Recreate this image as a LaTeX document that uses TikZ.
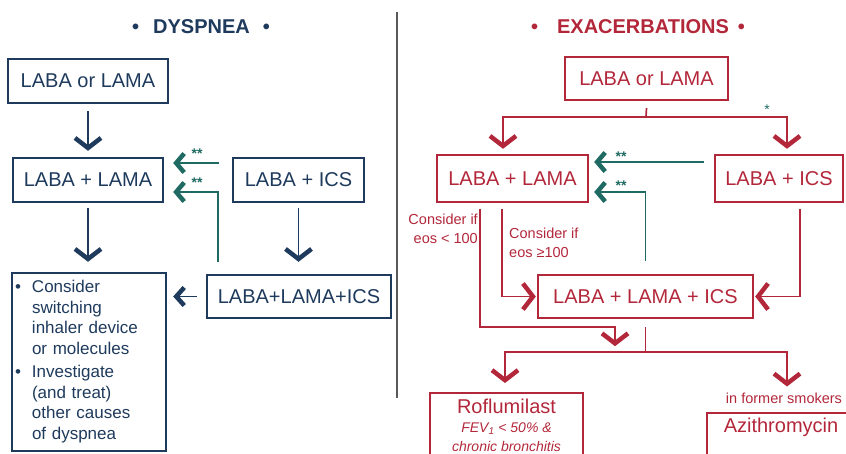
\documentclass[tikz,border=0pt]{standalone}
\usepackage{fontspec}
\setmainfont{Liberation Sans}
\usetikzlibrary{arrows.meta, positioning}
\definecolor{dyblue}{HTML}{1E3A5C}
\definecolor{exred}{HTML}{B3273A}
\definecolor{swgreen}{HTML}{1F6B63}
\begin{document}
\begin{tikzpicture}[x=1pt, y=-1pt,
  box/.style={draw, line width=2.4pt, inner sep=0pt, minimum height=44pt,
    font=\fontsize{20}{24}\selectfont},
  dbox/.style={box, draw=dyblue, text=dyblue},
  ebox/.style={box, draw=exred, text=exred},
  bigtip/.style={-{Straight Barb[length=10pt,width=26pt,line width=4.5pt]}},
  dline/.style={dyblue, line width=1.7pt, bigtip},
  rthin/.style={exred, line width=1.7pt},
  rline/.style={rthin, bigtip},
  gline/.style={swgreen, line width=1.7pt, -{Straight Barb[length=8pt,width=19pt,line width=4.5pt]}},
  stars/.style={swgreen, font=\fontsize{14}{14}\bfseries\selectfont, inner sep=0pt},
  rnote/.style={exred, font=\fontsize{14.5}{19}\selectfont, inner sep=0pt},
  title/.style={font=\fontsize{20}{24}\bfseries\selectfont, inner sep=0pt}]
  \clip (0,0) rectangle (846,453);
  \node[title, dyblue] (dTitle) at (201,27) {\textbullet\hspace{14pt}DYSPNEA\hspace{13pt}\textbullet};
  \node[dbox, minimum width=160pt] (dOr) at (88,81) {LABA or LAMA};
  \node[dbox, minimum width=150pt] (dLL) at (88,180) {LABA + LAMA};
  \node[dbox, minimum width=131pt] (dLI) at (298.5,180) {LABA + ICS};
  \node[dbox, minimum width=184pt, minimum height=43pt] (dTri) at (299,296.5) {LABA+LAMA+ICS};
  \node[dbox, minimum width=154pt, minimum height=178pt, text width=148pt,
    font=\fontsize{17}{20.5}\selectfont] (dCon) at (89,362) {%
    \begin{tabular}{@{}p{17pt}@{}l@{}}
      \textbullet & Consider\\
      & switching\\
      & inhaler device\\
      & or molecules\\[3pt]
      \textbullet & Investigate\\
      & (and treat)\\
      & other causes\\
      & of dyspnea
    \end{tabular}};
  \draw[dline, shorten <=7pt, shorten >=6pt] (dOr) -- (dLL);
  \draw[dline, shorten <=5pt, shorten >=10pt] (dLL.south) -- (dLL.south |- dCon.north);
  \draw[dline, shorten <=5pt, shorten >=12pt] (dLI.south) -- (dLI.south |- dTri.north);
  \draw[dyblue, line width=1.7pt, -{Straight Barb[length=8pt,width=18pt,line width=4.5pt]},
    shorten <=9pt, shorten >=6pt] (dTri.west) -- (dTri.west -| dCon.east);
  \draw[gline, shorten <=13pt, shorten >=9pt] ([yshift=17pt]dLI.west) -- ([yshift=17pt]dLL.east);
  \draw[gline, shorten <=12pt, shorten >=9pt] ([xshift=12pt]dTri.north west) |- ([yshift=-12pt]dLL.east);
  \node[stars] (dS1) at (197,154) {**};
  \node[stars] (dS2) at (197,183) {**};
  \draw[gray!70!black, line width=1.7pt] (397,12) -- (397,398);
  \node[title, exred] (eTitle) at (638,27) {\textbullet\hspace{19pt}EXACERBATIONS\hspace{9pt}\textbullet};
  \node[ebox, minimum width=163pt, minimum height=43pt] (eOr) at (646.5,78.5) {LABA or LAMA};
  \node[ebox, minimum width=151pt, minimum height=47pt] (eLL) at (512.5,178.5) {LABA + LAMA};
  \node[ebox, minimum width=128pt, minimum height=47pt] (eLI) at (779,178.5) {LABA + ICS};
  \node[ebox, minimum width=215pt, minimum height=43pt] (eTri) at (645.5,296.5) {LABA + LAMA + ICS};
  \node[ebox, minimum width=153pt, anchor=north, inner ysep=6pt, align=center,
    font=\fontsize{20}{22}\selectfont] (eRof) at (506.5,392)
    {Roflumilast\\[-3pt]{\fontsize{14}{18}\selectfont\itshape FEV\textsubscript{1} < 50\% \&}\\[-3pt]
     {\fontsize{14}{18}\selectfont\itshape chronic bronchitis}};
  \node[ebox, minimum width=148pt, anchor=north, inner ysep=5pt, text depth=40pt] (eAzi) at (781,412) {Azithromycin};
  \node[rnote] (eSmk) at (784,398) {in former smokers};
  \node[rnote, align=right, anchor=east] (eLow) at (478,229) {Consider if\\eos < 100};
  \node[rnote, align=left, anchor=west] (eHigh) at (509,243) {Consider if\\eos ≥100};
  \coordinate (eSplit) at (646,117);
  \coordinate (eSplit2) at (645.5,352);
  \draw[rthin] ([yshift=-7pt]eOr.south) -- (eSplit);
  \draw[rline, shorten >=5pt] (eSplit) -| ([xshift=-9.5pt]eLL.north);
  \draw[rline, shorten >=5pt] (eSplit) -| ([xshift=8pt]eLI.north);
  \node[stars, font=\fontsize{14}{14}\selectfont] (eS0) at (767,110) {*};
  \draw[gline, shorten <=10pt, shorten >=5pt] ([yshift=16.5pt]eLI.west) -- ([yshift=16.5pt]eLL.east);
  \draw[gline, shorten <=13pt, shorten >=5pt] (eTri.north) |- ([yshift=-13.5pt]eLL.east);
  \node[stars] (eS1) at (621,157) {**};
  \node[stars] (eS2) at (621,186) {**};
  \draw[rline, shorten <=6pt, shorten >=1pt] ([xshift=-10.5pt]eLL.south) |- (eTri.west);
  \draw[rline, shorten <=6pt] ([xshift=-32.5pt]eLL.south) |- ([xshift=-30.5pt,yshift=-8pt]eTri.south) -- ++(0,19);
  \draw[rline, shorten <=6pt, shorten >=1pt] ([xshift=21pt]eLI.south) |- (eTri.east);
  \draw[rthin] ([yshift=-8pt]eTri.south) -- (eSplit2);
  \draw[rline, shorten >=9pt] (eSplit2) -| ([xshift=-1.5pt]eRof.north);
  \draw[rline, shorten >=6pt] (eSplit2) -| ([xshift=3pt]eSmk.north);
\end{tikzpicture}
\end{document}
